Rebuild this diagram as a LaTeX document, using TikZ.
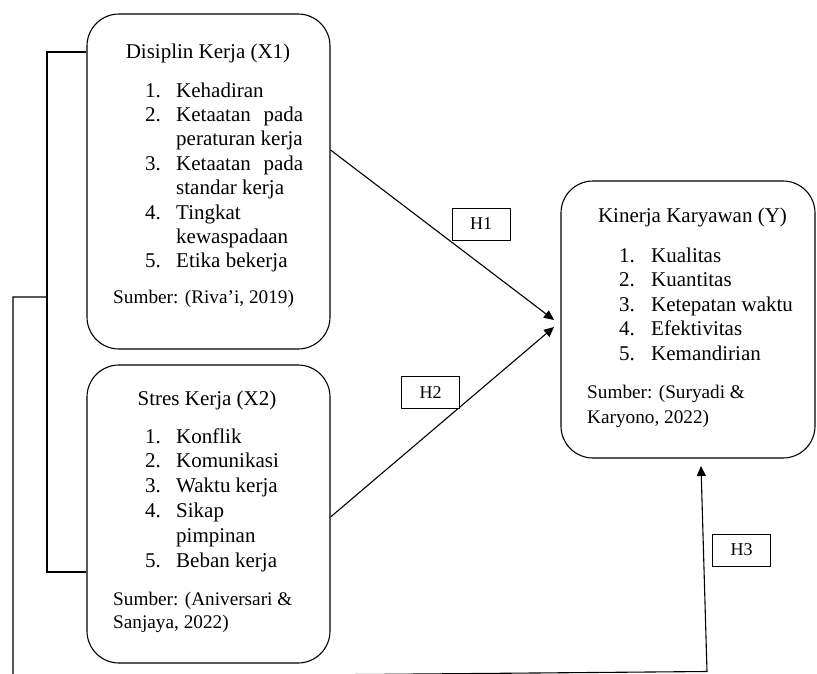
\documentclass[tikz,border=0pt]{standalone}
\usepackage{fontspec}
\setmainfont{Liberation Serif}
\usetikzlibrary{arrows.meta}
\newcommand\mainsz{\fontsize{21}{24}\selectfont}
\newcommand\sumsz{\fontsize{19.25}{23}\selectfont}
\newcommand\hsz{\fontsize{18}{20}\selectfont}
\begin{document}
\begin{tikzpicture}[x=1pt,y=-1pt,
  varbox/.style={draw, line width=1.1pt, rounded corners=32pt, inner sep=0pt},
  hbox/.style={draw, line width=1pt, fill=white, minimum width=58pt, minimum height=32pt, inner sep=0pt, font=\hsz},
  txt/.style={inner sep=0pt, anchor=base west, font=\mainsz},
  ttl/.style={inner sep=0pt, anchor=base, font=\mainsz},
  src/.style={inner sep=0pt, anchor=base west, font=\sumsz},
  conn/.style={line width=1.1pt},
  arr/.style={line width=1.1pt, -{Triangle[length=10pt,width=9pt]}}]
\useasboundingbox (0,0) rectangle (817,673);
% boxes
\node[varbox, minimum width=243pt, minimum height=335pt] (x1) at (208.5,181.5) {};
\node[varbox, minimum width=243pt, minimum height=298pt] (x2) at (208.5,514) {};
\node[varbox, minimum width=254pt, minimum height=277pt] (y) at (688,319.5) {};
% box 1 text
\node[ttl] (x1t) at (208,58) {Disiplin Kerja (X1)};
\node[txt] (x1n1) at (145,97) {1.};
\node[txt] (x1i1) at (176,97) {Kehadiran};
\node[txt] (x1n2) at (145,121.4) {2.};
\node[txt] (x1i2) at (176,121.4) {\hbox to 127pt{Ketaatan\hfill pada}};
\node[txt] (x1i2b) at (176,145.8) {peraturan kerja};
\node[txt] (x1n3) at (145,170.2) {3.};
\node[txt] (x1i3) at (176,170.2) {\hbox to 127pt{Ketaatan\hfill pada}};
\node[txt] (x1i3b) at (176,194.6) {standar kerja};
\node[txt] (x1n4) at (145,219) {4.};
\node[txt] (x1i4) at (176,219) {Tingkat};
\node[txt] (x1i4b) at (176,243.4) {kewaspadaan};
\node[txt] (x1n5) at (145,267.8) {5.};
\node[txt] (x1i5) at (176,267.8) {Etika bekerja};
\node[src] (x1s) at (113,303) {Sumber: (Riva’i, 2019)};
% box 2 text
\node[ttl] (x2t) at (207,405) {Stres Kerja (X2)};
\node[txt] (x2n1) at (145,443) {1.};
\node[txt] (x2i1) at (176,443) {Konflik};
\node[txt] (x2n2) at (145,467.8) {2.};
\node[txt] (x2i2) at (176,467.8) {Komunikasi};
\node[txt] (x2n3) at (145,492.6) {3.};
\node[txt] (x2i3) at (176,492.6) {Waktu kerja};
\node[txt] (x2n4) at (145,517.4) {4.};
\node[txt] (x2i4) at (176,517.4) {Sikap};
\node[txt] (x2i4b) at (176,542.2) {pimpinan};
\node[txt] (x2n5) at (145,567) {5.};
\node[txt] (x2i5) at (176,567) {Beban kerja};
\node[src] (x2s) at (113,605) {Sumber: (Aniversari \&};
\node[src] (x2sb) at (113,628) {Sanjaya, 2022)};
% box 3 text
\node[ttl] (yt) at (692.5,222) {Kinerja Karyawan (Y)};
\node[txt] (yn1) at (619,262) {1.};
\node[txt] (yi1) at (651,262) {Kualitas};
\node[txt] (yn2) at (619,286.5) {2.};
\node[txt] (yi2) at (651,286.5) {Kuantitas};
\node[txt] (yn3) at (619,311) {3.};
\node[txt] (yi3) at (651,311) {Ketepatan waktu};
\node[txt] (yn4) at (619,335.5) {4.};
\node[txt] (yi4) at (651,335.5) {Efektivitas};
\node[txt] (yn5) at (619,360) {5.};
\node[txt] (yi5) at (651,360) {Kemandirian};
\node[src] (ys) at (587,398) {Sumber: (Suryadi \&};
\node[src] (ysb) at (587,423) {Karyono, 2022)};
% connector points
\coordinate (t1) at (554,320);
\coordinate (t2) at (554,327);
\coordinate (t3) at (701,466);
\coordinate (b1) at (47,52);
\coordinate (b2) at (47,572);
\coordinate (m) at (47,297);
\coordinate (c1) at (13,297);
\coordinate (c2) at (13,677.5);
\coordinate (c3) at (707,671.5);
% connectors
\draw[arr] ([yshift=31.5pt]x1.east) -- (t1);
\draw[arr] ([yshift=-3pt]x2.east) -- (t2);
\draw[conn] (x1.west |- b1) -- (b1) -- (b2) -- (x2.west |- b2);
\draw[arr] (m) -- (c1) -- (c2) -- (c3) -- (t3);
% hypothesis labels
\node[hbox] (h1) at (481,224) {H1};
\node[hbox] (h2) at (430.5,392.5) {H2};
\node[hbox] (h3) at (741.5,550) {H3};
\end{tikzpicture}
\end{document}
